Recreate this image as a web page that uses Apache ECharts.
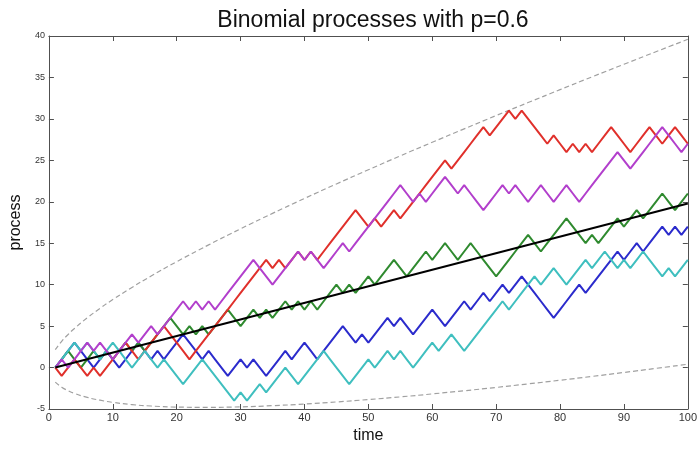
<!DOCTYPE html>
<html>
<head>
<meta charset="utf-8">
<script src="https://cdn.jsdelivr.net/npm/echarts@6/dist/echarts.min.js"></script>
<style>html,body{margin:0;padding:0;background:#fff}#c{width:700px;height:449px}</style>
</head>
<body>
<div id="c"></div>
<script>
// time runs from 1 to 100
var redWalk = [0,-1,0,1,0,-1,0,-1,0,1, 2,3,2,1,2,3,4,5,4,3, 2,1,2,3,4,5,6,7,8,9, 10,11,12,13,12,13,12,13,14,13,
  14,13,14,15,16,17,18,19,18,17, 18,17,18,19,18,19,20,21,22,23, 24,25,24,25,26,27,28,29,28,29, 30,31,30,31,30,29,28,27,28,27,
  26,27,26,27,26,27,28,29,28,27, 26,27,28,29,28,27,28,29,28,27];
var magentaWalk = [0,1,0,1,2,3,2,3,2,1, 2,3,4,3,4,5,4,5,6,7, 8,7,8,7,8,7,8,9,10,11, 12,13,12,11,10,11,12,13,14,13,
  14,13,12,13,14,15,14,15,16,17, 18,19,20,21,22,21,20,21,20,21, 22,23,22,21,22,21,20,19,20,21, 22,21,22,21,20,21,22,21,20,21,
  22,21,20,21,22,23,24,25,26,25, 24,25,26,27,28,29,28,27,26,27];
var greenWalk = [0,1,2,1,0,1,2,1,2,1, 2,3,2,3,2,3,4,5,6,5, 4,5,4,5,4,5,6,7,6,5, 6,7,6,7,6,7,8,7,8,7,
  8,7,8,9,10,9,10,9,10,11, 10,11,12,13,12,11,12,13,14,13, 14,15,14,13,14,15,14,13,12,11, 12,13,14,15,16,15,14,15,16,17,
  18,17,16,15,16,15,16,17,18,17, 18,19,18,19,20,21,20,19,20,21];
var blueWalk = [0,1,2,3,2,1,0,1,2,1, 0,1,2,3,2,1,2,1,2,3, 4,3,2,1,2,1,0,-1,0,1, 0,1,0,-1,0,1,2,1,2,3,
  2,1,2,3,4,5,4,3,4,3, 4,5,6,5,6,5,4,5,6,7, 6,5,6,7,8,7,8,9,8,9, 10,9,10,11,10,9,8,7,6,7,
  8,9,10,9,10,11,12,13,14,13, 14,15,14,15,16,17,16,17,16,17];
var cyanWalk = [0,1,2,3,2,3,2,1,2,3, 2,1,0,1,2,1,0,1,0,-1, -2,-1,0,1,0,-1,-2,-3,-4,-3, -4,-3,-2,-3,-2,-1,0,-1,-2,-1,
  0,1,2,1,0,-1,-2,-1,0,1, 0,1,2,1,2,1,0,1,2,3, 2,3,4,3,2,3,4,5,6,7, 8,7,8,9,10,11,10,11,12,11,
  10,11,12,13,12,13,14,13,12,13, 12,13,14,13,12,11,12,11,12,13];
// mean line end points
var meanTimes = [1, 100];
var meanValues = [0, 19.8];
// confidence band, read at these times
var bandTimes = [1,2,3,4,6,8,10,13,16,20,25,30,35,40,45,50,55,60,65,70,75,80,85,90,95,100];
var bandUpper = [2.16,3.17,3.99,4.72,6.00,7.14,8.20,9.67,11.04,12.77,14.80,16.74,18.60,20.40,22.15,23.86,25.54,27.18,28.80,30.40,31.97,33.53,35.07,36.59,38.10,39.60];
var bandLower = [-1.76,-2.37,-2.79,-3.12,-3.60,-3.94,-4.20,-4.47,-4.64,-4.77,-4.80,-4.74,-4.60,-4.40,-4.15,-3.86,-3.54,-3.18,-2.80,-2.40,-1.97,-1.53,-1.07,-0.59,-0.10,0.40];
var xTicks = {min: 0, max: 100, interval: 10};
var yTicks = {min: -5, max: 40, interval: 5};

function walkPairs(arr){ return arr.map(function(v,i){ return [i+1, v]; }); }
function zipPairs(xs, ys){ return xs.map(function(x,i){ return [x, ys[i]]; }); }

var chart = echarts.init(document.getElementById('c'), null, {renderer:'canvas'});
var axisColor = '#505050';
var fontFam = 'Liberation Sans, Arial, sans-serif';
function walkSeries(name, arr, color){
  return {name:name, type:'line', data: walkPairs(arr), symbol:'none', lineStyle:{color:color, width:2}, z:3};
}
var lineCommon = {show:true, onZero:false, lineStyle:{color:axisColor, width:1}};
var tickCommon = {inside:true, length:5, lineStyle:{color:axisColor}};
chart.setOption({
  animation:false,
  title:{text:'Binomial processes with p=0.6', left:368, top:4, textAlign:'center',
    textStyle:{fontFamily:fontFam, fontSize:23, fontWeight:'normal', color:'#111'}},
  grid:{left:46, right:12, top:36, bottom:29},
  xAxis:[
    {type:'value', min:xTicks.min, max:xTicks.max, interval:xTicks.interval, position:'bottom',
     name:'time', nameLocation:'middle', nameGap:19, nameTextStyle:{fontFamily:fontFam, fontSize:16, color:'#111'},
     axisLine:lineCommon, axisTick:tickCommon,
     axisLabel:{fontFamily:fontFam, fontSize:11, color:'#333', margin:3}, splitLine:{show:false}},
    {type:'value', min:xTicks.min, max:xTicks.max, interval:xTicks.interval, position:'top',
     axisLine:lineCommon, axisTick:tickCommon,
     axisLabel:{show:false}, splitLine:{show:false}}
  ],
  yAxis:[
    {type:'value', min:yTicks.min, max:yTicks.max, interval:yTicks.interval, position:'left',
     name:'process', nameLocation:'middle', nameGap:22, nameTextStyle:{fontFamily:fontFam, fontSize:16, color:'#111'},
     axisLine:lineCommon, axisTick:tickCommon,
     axisLabel:{fontFamily:fontFam, fontSize:9, color:'#333', margin:4}, splitLine:{show:false}},
    {type:'value', min:yTicks.min, max:yTicks.max, interval:yTicks.interval, position:'right',
     axisLine:lineCommon, axisTick:tickCommon,
     axisLabel:{show:false}, splitLine:{show:false}}
  ],
  series:[
    {type:'line', data: zipPairs(bandTimes, bandUpper), smooth:true, symbol:'none', lineStyle:{color:'#a0a0a0', width:1.2, type:[5,3]}, z:2},
    {type:'line', data: zipPairs(bandTimes, bandLower), smooth:true, symbol:'none', lineStyle:{color:'#a0a0a0', width:1.2, type:[5,3]}, z:2},
    walkSeries('blue', blueWalk, '#2b2bcc'),
    walkSeries('green', greenWalk, '#2f8a2f'),
    walkSeries('red', redWalk, '#e0302b'),
    walkSeries('cyan', cyanWalk, '#3fbfbf'),
    walkSeries('magenta', magentaWalk, '#b23fcc'),
    {type:'line', data: zipPairs(meanTimes, meanValues), symbol:'none', lineStyle:{color:'#000', width:2}, z:4}
  ]
});
</script>
</body>
</html>
